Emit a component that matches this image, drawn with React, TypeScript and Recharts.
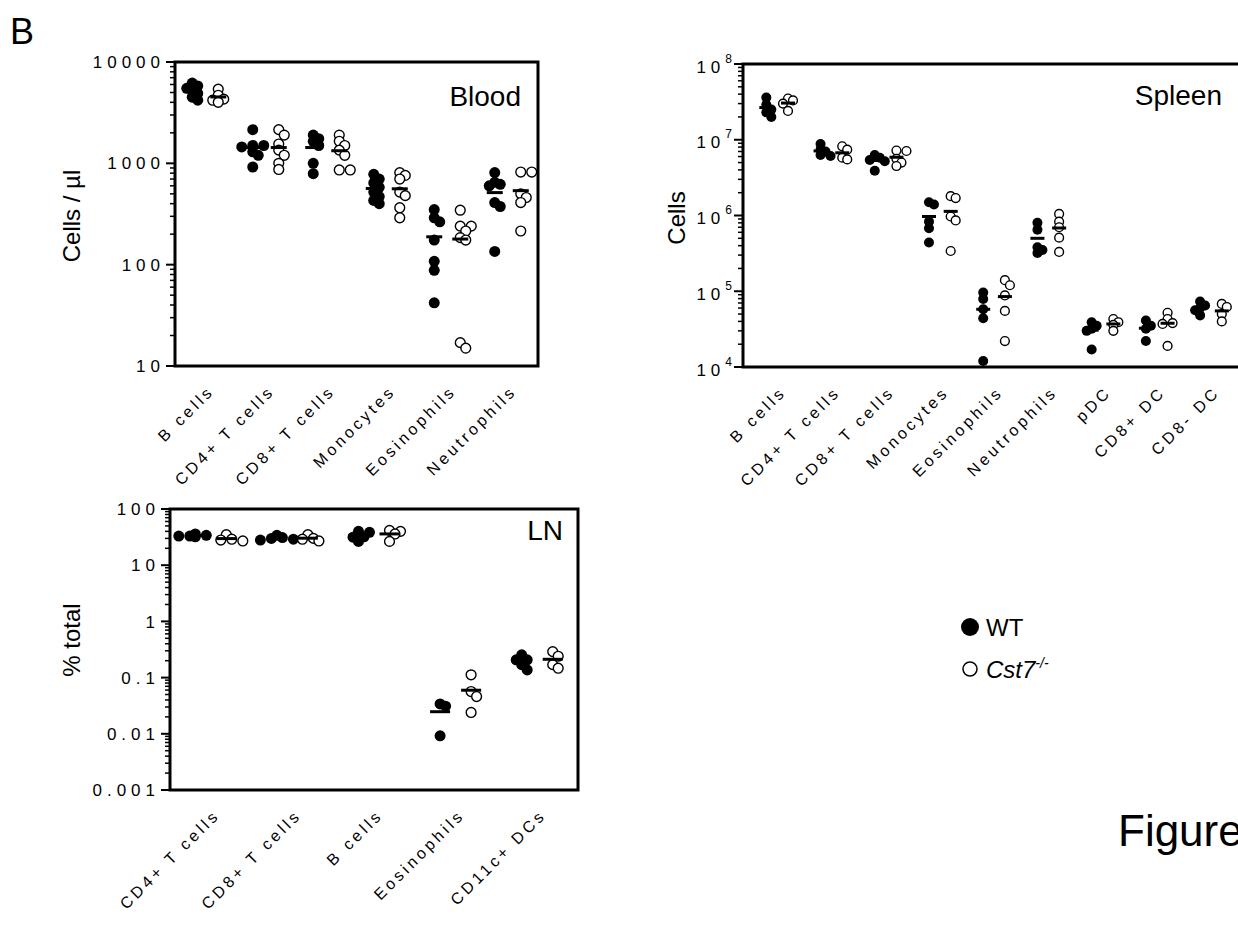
import React from "react";
import { ScatterChart, Scatter, XAxis, YAxis, ReferenceArea } from "recharts";

const FONT = '"Liberation Sans", Arial, Helvetica, sans-serif';

// ---- Blood (cells / µl) ----
const bloodCategories = ["B cells", "CD4+ T cells", "CD8+ T cells", "Monocytes", "Eosinophils", "Neutrophils"];
const bloodWT = [
  [6200, 5800, 5500, 5200, 4900, 4500, 4200],
  [2150, 1500, 1500, 1450, 1300, 1200, 920],
  [1900, 1750, 1650, 1500, 1000, 790],
  [780, 700, 640, 580, 520, 470, 430, 400],
  [350, 290, 265, 175, 108, 88, 42],
  [810, 650, 620, 600, 410, 375, 135],
];
const bloodKO = [
  [5400, 4700, 4300, 4200, 4000],
  [2150, 1900, 1550, 1350, 1200, 1000, 870],
  [1900, 1650, 1500, 1350, 1200, 860, 860],
  [810, 760, 700, 520, 480, 365, 290],
  [345, 240, 240, 215, 185, 175, 15, 17],
  [820, 820, 500, 460, 410, 215],
];
const bloodTicks = [10, 100, 1000, 10000];

// ---- Spleen (cells) ----
const spleenCategories = [
  "B cells", "CD4+ T cells", "CD8+ T cells", "Monocytes", "Eosinophils",
  "Neutrophils", "pDC", "CD8+ DC", "CD8- DC",
];
const spleenWT = [
  [3.6e7, 2.9e7, 2.5e7, 2.3e7, 2.0e7],
  [8.8e6, 7.4e6, 7.0e6, 6.3e6, 6.1e6],
  [6.3e6, 5.8e6, 5.4e6, 5.2e6, 3.9e6],
  [1.5e6, 1.4e6, 8.3e5, 6.8e5, 4.4e5],
  [9.6e4, 7.9e4, 5.8e4, 4.4e4, 1.2e4],
  [8.0e5, 6.5e5, 3.8e5, 3.5e5, 3.2e5],
  [3.9e4, 3.5e4, 3.2e4, 3.0e4, 1.7e4],
  [4.1e4, 3.5e4, 3.2e4, 2.2e4],
  [7.3e4, 6.5e4, 6.0e4, 5.6e4, 4.8e4],
];
const spleenKO = [
  [3.5e7, 3.3e7, 3.0e7, 2.4e7],
  [8.2e6, 7.4e6, 5.8e6, 5.5e6],
  [7.2e6, 7.1e6, 5.6e6, 5.0e6, 4.5e6],
  [1.8e6, 1.7e6, 9.7e5, 8.6e5, 3.4e5],
  [1.4e5, 1.2e5, 8.8e4, 5.5e4, 2.2e4],
  [1.05e6, 8.3e5, 7.0e5, 5.1e5, 3.3e5],
  [4.3e4, 3.9e4, 3.6e4, 3.0e4],
  [5.2e4, 4.3e4, 3.8e4, 3.7e4, 1.9e4],
  [6.8e4, 6.2e4, 5.0e4, 4.0e4],
];
const spleenTicks = [1e4, 1e5, 1e6, 1e7, 1e8];

// ---- LN (% total) ----
const lnCategories = ["CD4+ T cells", "CD8+ T cells", "B cells", "Eosinophils", "CD11c+ DCs"];
const lnWT = [
  [36, 34, 33, 32, 33],
  [34, 31, 29, 28, 30],
  [40, 38.4, 32, 31.5, 26.5],
  [0.034, 0.031, 0.0092],
  [0.254, 0.207, 0.207, 0.17, 0.137],
];
const lnKO = [
  [35, 29, 28, 27],
  [35, 30, 29, 27],
  [41.6, 40, 36, 26.5],
  [0.112, 0.0565, 0.046, 0.024],
  [0.29, 0.24, 0.17, 0.147],
];
const lnTicks = [0.001, 0.01, 0.1, 1, 10, 100];

type Box = { left: number; top: number; width: number; height: number };
type Plot = { x0: number; y0: number; x1: number; y1: number };

type PanelProps = {
  box: Box;
  plot: Plot;
  categories: string[];
  wt: number[][];
  ko: number[][];
  decades: number[];
  xDomain: [number, number];
  offset: number;
  r: number;
  meanHalf: number;
  tickLabel: (v: number, x: number, y: number) => React.ReactNode;
};

// spread overlapping dots sideways (simple beeswarm), in pixels
function swarm(groups: number[][], side: number, offset: number, r: number, pxPerDecade: number, pxPerUnit: number) {
  const pts: { x: number; y: number }[] = [];
  groups.forEach((vals, ci) => {
    const placed: { dx: number; py: number }[] = [];
    [...vals].sort((a, b) => b - a).forEach((v) => {
      const py = Math.log10(v) * pxPerDecade;
      let dx = 0;
      for (const k of [0, 1, -1, 2, -2, 3, -3]) {
        const cand = k * r;
        if (placed.every((q) => Math.hypot(q.dx - cand, q.py - py) >= r * 1.05)) {
          dx = cand;
          break;
        }
      }
      placed.push({ dx, py });
      pts.push({ x: ci + side * offset + dx / pxPerUnit, y: v });
    });
  });
  return pts;
}

function means(groups: number[][], side: number, offset: number) {
  return groups.map((vals, ci) => ({
    x: ci + side * offset,
    y: vals.reduce((s, v) => s + v, 0) / vals.length,
  }));
}

function Panel(p: PanelProps) {
  const yAxisW = 60;
  const xAxisH = 120;
  const margin = {
    left: p.plot.x0 - p.box.left - yAxisW,
    top: p.plot.y0 - p.box.top,
    right: p.box.left + p.box.width - p.plot.x1,
    bottom: p.box.top + p.box.height - p.plot.y1 - xAxisH,
  };
  const yMin = p.decades[0];
  const yMax = p.decades[p.decades.length - 1];
  const pxPerDecade = (p.plot.y1 - p.plot.y0) / Math.log10(yMax / yMin);
  const pxPerUnit = (p.plot.x1 - p.plot.x0) / (p.xDomain[1] - p.xDomain[0]);

  const yTicks: number[] = [];
  p.decades.forEach((d, i) => {
    yTicks.push(d);
    if (i < p.decades.length - 1) for (let k = 2; k <= 9; k++) yTicks.push(d * k);
  });

  const wtPts = swarm(p.wt, -1, p.offset, p.r, pxPerDecade, pxPerUnit);
  const koPts = swarm(p.ko, 1, p.offset, p.r, pxPerDecade, pxPerUnit);
  const meanPts = [...means(p.wt, -1, p.offset), ...means(p.ko, 1, p.offset)];

  const renderYTick = (t: any) => {
    const v = t.payload.value;
    const major = p.decades.includes(v);
    return (
      <g>
        <line x1={t.x - (major ? 9 : 5)} x2={t.x} y1={t.y} y2={t.y} stroke="#000" strokeWidth={major ? 2 : 1.5} />
        {major ? p.tickLabel(v, t.x, t.y) : null}
      </g>
    );
  };

  const renderXTick = (t: any) => (
    <text
      transform={`translate(${t.x + 10},${t.y + 26}) rotate(-45)`}
      textAnchor="end"
      fontFamily={FONT}
      fontSize={16}
      letterSpacing={3.5}
      fill="#000"
    >
      {p.categories[Math.round(t.payload.value)]}
    </text>
  );

  return (
    <div style={{ position: "absolute", left: p.box.left, top: p.box.top }}>
      <ScatterChart width={p.box.width} height={p.box.height} margin={margin}>
        <XAxis
          type="number"
          dataKey="x"
          domain={p.xDomain}
          ticks={p.categories.map((_, i) => i)}
          interval={0}
          allowDataOverflow
          axisLine={false}
          tickLine={false}
          tickSize={0}
          tickMargin={0}
          height={xAxisH}
          tick={renderXTick}
        />
        <YAxis
          type="number"
          dataKey="y"
          scale="log"
          domain={[yMin, yMax]}
          ticks={yTicks}
          interval={0}
          allowDataOverflow
          axisLine={false}
          tickLine={false}
          tickSize={0}
          tickMargin={0}
          width={yAxisW}
          tick={renderYTick}
        />
        <ReferenceArea
          x1={p.xDomain[0]}
          x2={p.xDomain[1]}
          y1={yMin}
          y2={yMax}
          fill="none"
          fillOpacity={0}
          stroke="#000"
          strokeWidth={3}
          ifOverflow="visible"
        />
        <Scatter
          data={wtPts}
          isAnimationActive={false}
          shape={(s: any) => <circle cx={s.cx} cy={s.cy} r={p.r} fill="#000" />}
        />
        <Scatter
          data={koPts}
          isAnimationActive={false}
          shape={(s: any) => <circle cx={s.cx} cy={s.cy} r={p.r - 0.6} fill="#fff" stroke="#000" strokeWidth={1.4} />}
        />
        <Scatter
          data={meanPts}
          isAnimationActive={false}
          shape={(s: any) => (
            <line x1={s.cx - p.meanHalf} x2={s.cx + p.meanHalf} y1={s.cy} y2={s.cy} stroke="#000" strokeWidth={3} />
          )}
        />
      </ScatterChart>
    </div>
  );
}

const plainLabel = (v: number, x: number, y: number) => (
  <text x={x - 10} y={y} dy="0.36em" textAnchor="end" fontFamily={FONT} fontSize={17} letterSpacing={5} fill="#000">
    {String(v)}
  </text>
);

const powerLabel = (v: number, x: number, y: number) => (
  <text x={x - 11} y={y} dy="0.5em" textAnchor="end" fontFamily={FONT} fontSize={17} fill="#000">
    <tspan letterSpacing={5}>10</tspan>
    <tspan fontSize={12} dy={-10}>
      {Math.round(Math.log10(v))}
    </tspan>
  </text>
);

export default function App() {
  return (
    <div
      style={{
        position: "fixed",
        left: 0,
        top: 0,
        width: 1238,
        height: 929,
        overflow: "hidden",
        background: "#fff",
        fontFamily: FONT,
      }}
    >
      <Panel
        box={{ left: 0, top: 0, width: 560, height: 500 }}
        plot={{ x0: 175, y0: 62, x1: 538, y1: 366 }}
        categories={bloodCategories}
        wt={bloodWT}
        ko={bloodKO}
        decades={bloodTicks}
        xDomain={[-0.5, 5.5]}
        offset={0.215}
        r={5.5}
        meanHalf={8}
        tickLabel={plainLabel}
      />
      <Panel
        box={{ left: 620, top: 0, width: 640, height: 500 }}
        plot={{ x0: 743, y0: 64, x1: 1250, y1: 367 }}
        categories={spleenCategories}
        wt={spleenWT}
        ko={spleenKO}
        decades={spleenTicks}
        xDomain={[-0.63, 8.72]}
        offset={0.2}
        r={5}
        meanHalf={7}
        tickLabel={powerLabel}
      />
      <Panel
        box={{ left: 0, top: 440, width: 600, height: 489 }}
        plot={{ x0: 170, y0: 509, x1: 578, y1: 790 }}
        categories={lnCategories}
        wt={lnWT}
        ko={lnKO}
        decades={lnTicks}
        xDomain={[-0.5, 4.5]}
        offset={0.19}
        r={5.5}
        meanHalf={10}
        tickLabel={plainLabel}
      />
      <svg
        width={1238}
        height={929}
        style={{ position: "absolute", left: 0, top: 0, pointerEvents: "none" }}
        fontFamily={FONT}
      >
        <text x={10} y={44} fontSize={36}>B</text>
        <text x={521} y={106} fontSize={28} textAnchor="end">Blood</text>
        <text x={1222} y={105} fontSize={28} textAnchor="end">Spleen</text>
        <text x={563} y={540} fontSize={28} textAnchor="end">LN</text>
        <text transform="translate(80,216) rotate(-90)" fontSize={24} textAnchor="middle">Cells / µl</text>
        <text transform="translate(685,218) rotate(-90)" fontSize={24} textAnchor="middle">Cells</text>
        <text transform="translate(80,640) rotate(-90)" fontSize={24} textAnchor="middle">% total</text>
        <circle cx={970} cy={627} r={9} fill="#000" />
        <text x={986} y={636} fontSize={24}>WT</text>
        <circle cx={970} cy={669} r={7} fill="#fff" stroke="#000" strokeWidth={1.5} />
        <text x={986} y={678} fontSize={24}>
          <tspan fontStyle="italic">Cst7</tspan>
          <tspan fontSize={14} dy={-10} fontStyle="italic">-/-</tspan>
        </text>
        <text x={1118} y={846} fontSize={44}>Figure</text>
      </svg>
    </div>
  );
}
